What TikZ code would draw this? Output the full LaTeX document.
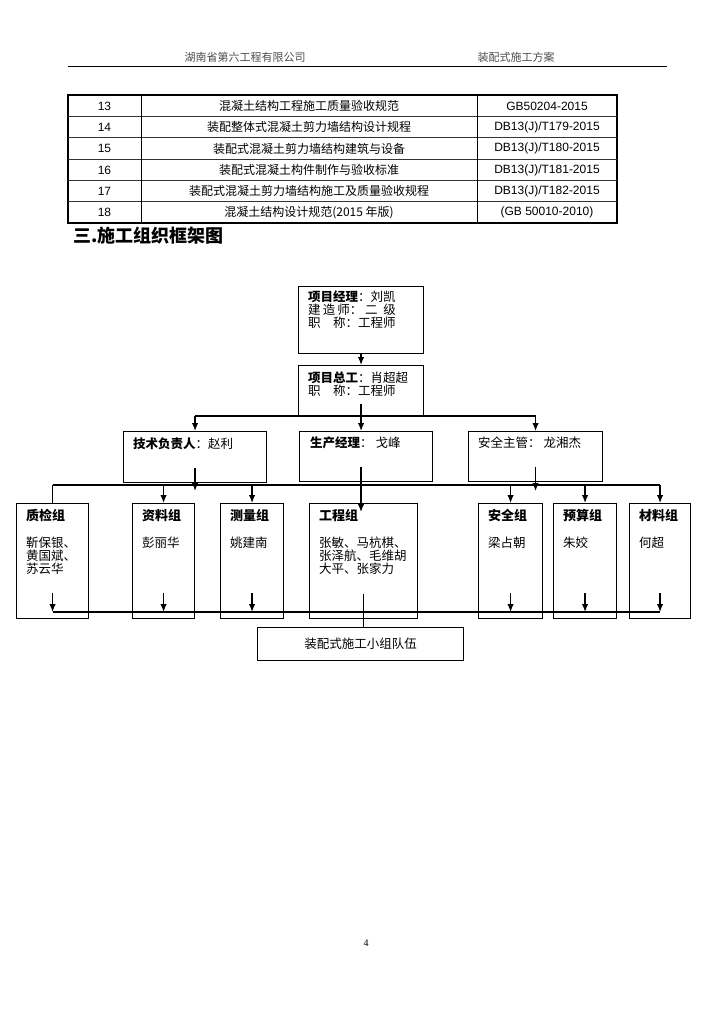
\documentclass[tikz,border=0pt]{standalone}
\usepackage{fontspec}
\setmainfont{Liberation Sans}
\newfontfamily\cjk{Noto Sans CJK SC}
\newfontfamily\pagefont{Liberation Serif}
\usepackage{tikz}
\usetikzlibrary{positioning}
\usetikzlibrary{arrows.meta}

\tikzset{
  orgbox/.style={draw, line width=1.1pt, inner sep=0pt, anchor=north west},
  boxtext/.style={anchor=north west, inner sep=0pt, align=left, font=\cjk\fontsize{12.5}{13}\selectfont},
  cell/.style={inner sep=0pt, font=\fontsize{12}{12}\selectfont},
  arr/.style={line width=1.3pt, -{Latex[length=8pt,width=6.5pt]}},
  wire/.style={line width=1.3pt},
  busline/.style={line width=2.2pt}
}

\begin{document}
\begin{tikzpicture}[x=1pt, y=-1pt]
        \path[fill=white] (0,0) rectangle (724,1024);

        % Cabecera
        \node[font=\cjk\fontsize{11}{12}\selectfont, text=black!70] (company) at (245,57) {湖南省第六工程有限公司};
        \node[font=\cjk\fontsize{11}{12}\selectfont, text=black!70] (plan) at (516,57) {装配式施工方案};
        \draw[line width=1pt] (68,67) -- (667,67);

        % Tabla de normas
        \draw[line width=1.2pt] (68,95) rectangle (617,223);
        \foreach \y in {116.3,137.7,159,180.3,201.7}
            \draw[line width=0.7pt, black!80] (68,\y) -- (617,\y);
        \draw[line width=0.8pt] (141,95) -- (141,223);
        \draw[line width=0.8pt] (477,95) -- (477,223);
        \foreach \i/\num/\name/\code in {
            0/13/混凝土结构工程施工质量验收规范/{GB50204-2015},
            1/14/装配整体式混凝土剪力墙结构设计规程/{DB13(J)/T179-2015},
            2/15/装配式混凝土剪力墙结构建筑与设备/{DB13(J)/T180-2015},
            3/16/装配式混凝土构件制作与验收标准/{DB13(J)/T181-2015},
            4/17/装配式混凝土剪力墙结构施工及质量验收规程/{DB13(J)/T182-2015},
            5/18/{混凝土结构设计规范(2015 年版)}/{(GB 50010-2010)}
        } {
            \node[cell] (no\num) at (104.5,106+21.33*\i) {\num};
            \node[cell, font=\cjk\fontsize{12}{12}\selectfont] (std\num) at (309,106+21.33*\i) {\name};
            \node[cell] (code\num) at (547,106+21.33*\i) {\code};
        }

        % Titulo
        \node[anchor=west, inner sep=0pt, font=\cjk\bfseries\fontsize{18}{20}\selectfont] (title) at (73,236) {三.施工组织框架图};

        % Direccion
        \node[orgbox, minimum width=125pt, minimum height=67pt] (pm) at (298,286) {};
        \node[boxtext] (pm-text) at ([shift={(10pt,-5pt)}]pm.north west)
            {\textbf{项目经理}：刘凯\\建\,造\,师：\ 二\ \ 级\\职\hspace{1em}称：工程师};
        \node[orgbox, minimum width=125pt, minimum height=50pt] (zg) at (298,365) {};
        \node[boxtext] (zg-text) at ([shift={(10pt,-7pt)}]zg.north west)
            {\textbf{项目总工}：肖超超\\职\hspace{1em}称：工程师};
        \node[orgbox, minimum width=143pt, minimum height=51pt] (tech) at (123,431) {};
        \node[boxtext] (tech-text) at ([shift={(10pt,-7pt)}]tech.north west) {\textbf{技术负责人}：赵利};
        \node[orgbox, minimum width=133pt, minimum height=50pt] (prod) at (299,431) {};
        \node[boxtext] (prod-text) at ([shift={(11pt,-6pt)}]prod.north west) {\textbf{生产经理}：\ 戈峰};
        \node[orgbox, minimum width=134pt, minimum height=50pt] (safe) at (468,431) {};
        \node[boxtext] (safe-text) at ([shift={(10pt,-6pt)}]safe.north west) {安全主管：\ 龙湘杰};

        % Grupos
        \foreach \n/\x/\w/\title/\names in {
            qc/16/72/质检组/{靳保银、\\黄国斌、\\苏云华},
            doc/132/62/资料组/彭丽华,
            svy/220/63/测量组/姚建南,
            eng/309/108/工程组/{张敏、马杭棋、\\张泽航、毛维胡\\大平、张家力},
            sg/478/64/安全组/梁占朝,
            bud/553/63/预算组/朱姣,
            mat/629/61/材料组/何超
        } {
            \node[orgbox, minimum width=\w pt, minimum height=115pt] (\n) at (\x,503) {};
            \node[boxtext] (\n-text) at ([shift={(10pt,-6pt)}]\n.north west)
                {{\fontsize{13}{13}\selectfont\textbf{\title}}\\[14pt]\names};
        }
        \node[orgbox, minimum width=206pt, minimum height=33pt] (team) at (257,627) {};
        \node[inner sep=0pt, font=\cjk\fontsize{12.5}{12.5}\selectfont] (team-text) at (team.center) {装配式施工小组队伍};

        % Conexiones
        \coordinate (bus1) at (0,416);
        \coordinate (bus2) at (0,485);
        \coordinate (bus2low) at (0,491);
        \coordinate (bus3) at (0,612);
        \coordinate (prodout) at (361,467);
        \coordinate (engin) at (361,512);

        \draw[arr] (pm.south) -- (zg.north);
        \draw[busline] (tech.north |- bus1) -- (safe.north |- bus1);
        \draw[arr] (tech.north |- bus1) -- (tech.north);
        \draw[arr] (safe.north |- bus1) -- (safe.north);
        \draw[arr] ([yshift=12pt]zg.south) -- (zg.south |- prod.north);

        \draw[busline] (qc.north |- bus2) -- (mat.north |- bus2);
        \draw[arr] ([yshift=15pt]tech.south) -- (tech.south |- bus2low);
        \draw[arr] ([yshift=15pt]safe.south) -- (safe.south |- bus2low);
        \draw[arr] (prodout) -- (engin);
        \draw[wire] (qc.north |- bus2) -- (qc.north);
        \foreach \g in {doc,svy,sg,bud,mat}
            \draw[arr] (\g.north |- bus2) -- (\g.north);

        \draw[line width=1.4pt] (qc.south |- bus3) -- (mat.south |- bus3);
        \foreach \g in {qc,doc,svy,sg,bud,mat}
            \draw[arr] ([yshift=26pt]\g.south) -- (\g.south |- bus3);
        \draw[wire] ([yshift=25pt]eng.south) -- (eng.south |- team.north);

        % Pagina
        \node[font=\pagefont\fontsize{10}{12}\selectfont] (pageno) at (366,943) {4};

    \end{tikzpicture}
\end{document}
